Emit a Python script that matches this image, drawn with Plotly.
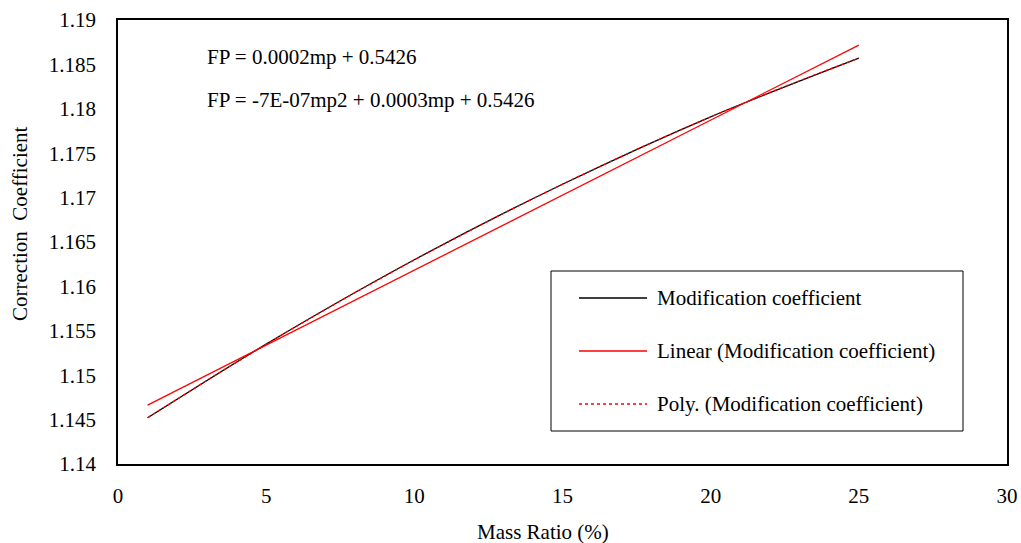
import numpy as np
import plotly.graph_objects as go

mass_ratio = [1, 5, 10, 15, 20, 25]
modification_coefficient = [1.1452, 1.1535, 1.1630, 1.1715, 1.1791, 1.1857]

x_ticks = [0, 5, 10, 15, 20, 25, 30]
y_ticks = [1.14, 1.145, 1.15, 1.155, 1.16, 1.165, 1.17, 1.175, 1.18, 1.185, 1.19]
y_tick_labels = ["1.14", "1.145", "1.15", "1.155", "1.16", "1.165", "1.17", "1.175", "1.18", "1.185", "1.19"]

legend_names = ["Modification coefficient", "Linear (Modification coefficient)", "Poly. (Modification coefficient)"]
equations = ["FP = 0.0002mp + 0.5426", "FP = -7E-07mp2 + 0.0003mp + 0.5426"]
x_title = "Mass Ratio (%)"
y_title = "Correction  Coefficient"

# trendlines (least squares, like the spreadsheet trendlines)
xa = np.array(mass_ratio, dtype=float)
ya = np.array(modification_coefficient)
xl = np.array([xa.min(), xa.max()])
lin = np.polyval(np.polyfit(xa, ya, 1), xl)
xp = np.linspace(xa.min(), xa.max(), 200)
poly = np.polyval(np.polyfit(xa, ya, 2), xp)

FONT = "Liberation Serif, Times New Roman, serif"
FS = 21

fig = go.Figure()
fig.add_trace(go.Scatter(x=mass_ratio, y=modification_coefficient, mode="lines",
                         line=dict(color="black", width=1.3, shape="spline", smoothing=0.8), name=legend_names[0]))
fig.add_trace(go.Scatter(x=xl, y=lin, mode="lines",
                         line=dict(color="#ff0000", width=1.3), name=legend_names[1]))
fig.add_trace(go.Scatter(x=xp, y=poly, mode="lines",
                         line=dict(color="#ff0000", width=1.3, dash="dot"), name=legend_names[2]))

# layout geometry (pixels)
W, H = 1021, 543
L, R, T, B = 118, 14, 20, 79
pw, ph = W - L - R, H - T - B

def px(xp_):
    return (xp_ - L) / pw

def py(yp_):
    return 1 - (yp_ - T) / ph

shapes = []
annotations = []
# custom legend box
shapes.append(dict(type="rect", xref="paper", yref="paper", x0=px(551), x1=px(963), y0=py(431), y1=py(271),
                   line=dict(color="black", width=1), fillcolor="white", layer="above"))
legend_styles = [dict(color="black", width=1.3), dict(color="#ff0000", width=1.3),
                 dict(color="#ff0000", width=1.3, dash="dot")]
legend_y = [298, 351, 404]
for name, st, yy in zip(legend_names, legend_styles, legend_y):
    shapes.append(dict(type="line", xref="paper", yref="paper", x0=px(579), x1=px(647), y0=py(yy), y1=py(yy),
                       line=st, layer="above"))
    annotations.append(dict(xref="paper", yref="paper", x=px(655), y=py(yy), text=name, showarrow=False,
                            xanchor="left", yanchor="middle", font=dict(family=FONT, size=FS, color="black")))

for eq, yy in zip(equations, [57, 100]):
    annotations.append(dict(xref="paper", yref="paper", x=px(205), y=py(yy), text=eq, showarrow=False,
                            xanchor="left", yanchor="middle", font=dict(family=FONT, size=FS, color="black")))

annotations.append(dict(xref="paper", yref="paper", x=px(543), y=py(532), text=x_title, showarrow=False,
                        xanchor="center", yanchor="middle", font=dict(family=FONT, size=FS, color="black")))
annotations.append(dict(xref="paper", yref="paper", x=px(20), y=py(224), text=y_title, showarrow=False,
                        textangle=-90, xanchor="center", yanchor="middle",
                        font=dict(family=FONT, size=FS, color="black")))

fig.update_layout(
    width=W, height=H,
    margin=dict(l=L, r=R, t=T, b=B),
    paper_bgcolor="white", plot_bgcolor="white",
    showlegend=False,
    font=dict(family=FONT, size=FS, color="black"),
    shapes=shapes, annotations=annotations,
)
fig.update_xaxes(range=[0, 30], tickvals=x_ticks, ticks="", showgrid=False, zeroline=False,
                 showline=True, mirror=True, linecolor="black", linewidth=1.5,
                 ticklabelstandoff=12, automargin=False)
fig.update_yaxes(range=[1.14, 1.19], tickvals=y_ticks, ticktext=y_tick_labels, ticks="", showgrid=False,
                 zeroline=False, showline=True, mirror=True, linecolor="black", linewidth=1.5,
                 ticklabelstandoff=16, automargin=False)

fig.write_html("out.html", config={"displayModeBar": False},
               post_script="document.body.style.margin='0';document.body.style.overflow='hidden';")
